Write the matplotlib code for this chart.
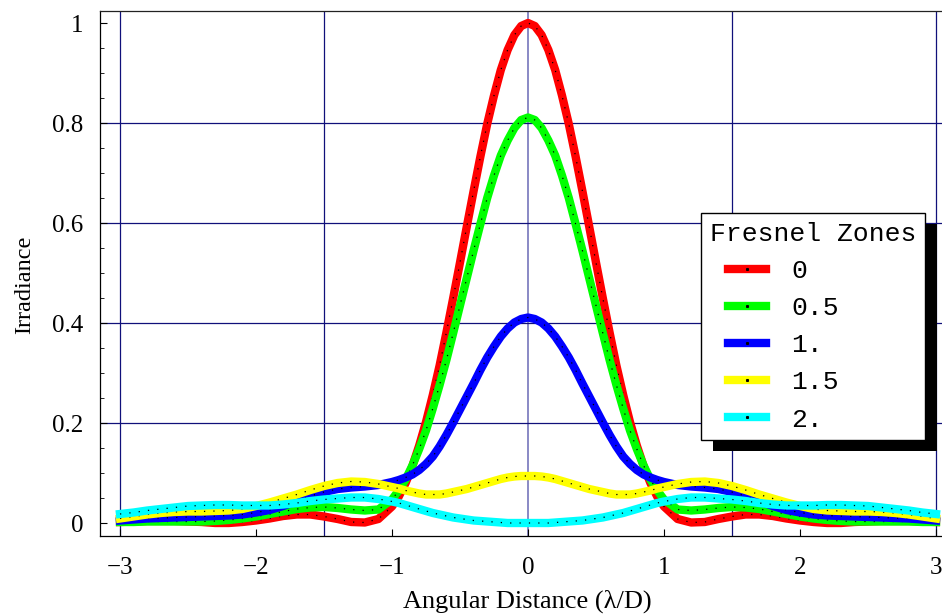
import matplotlib
matplotlib.use("Agg")
import matplotlib.pyplot as plt
from matplotlib.lines import Line2D
from matplotlib.patches import Rectangle
from matplotlib.font_manager import FontProperties
from matplotlib.ticker import MultipleLocator
from matplotlib.legend_handler import HandlerLine2D

# ---- data ----
# sample positions: 0.1 steps in the wings, 0.05 steps across the central lobe
x_vals = ([round(-3.0 + 0.1 * i, 2) for i in range(20)]
          + [round(-1.0 + 0.05 * i, 2) for i in range(41)]
          + [round(1.1 + 0.1 * i, 2) for i in range(20)])

zone_labels = ["0", "0.5", "1.", "1.5", "2."]
zone_colors = ["#ff0000", "#00ff00", "#0000ff", "#ffff00", "#00ffff"]

red_vals = [0.002, 0.003, 0.004, 0.004, 0.004, 0.003, 0.002, 0.000, 0.000, 0.002,
            0.005, 0.009, 0.014, 0.017, 0.017, 0.013, 0.008, 0.002, 0.001, 0.008,
            0.033, 0.053, 0.080, 0.114, 0.155, 0.202, 0.256, 0.315, 0.381, 0.450,
            0.521, 0.593, 0.664, 0.733, 0.798, 0.855, 0.906, 0.946, 0.976, 0.994,
            1.000,
            0.994, 0.976, 0.946, 0.906, 0.855, 0.798, 0.733, 0.664, 0.593, 0.521,
            0.450, 0.381, 0.315, 0.256, 0.202, 0.155, 0.114, 0.080, 0.053, 0.033,
            0.008, 0.001, 0.002, 0.008, 0.013, 0.017, 0.017, 0.014, 0.009, 0.005,
            0.002, 0.000, 0.000, 0.002, 0.003, 0.004, 0.004, 0.004, 0.003, 0.002]

green_vals = [0.002, 0.002, 0.003, 0.003, 0.003, 0.003, 0.003, 0.004, 0.006, 0.009,
              0.013, 0.018, 0.023, 0.028, 0.031, 0.032, 0.030, 0.027, 0.025, 0.027,
              0.047, 0.065, 0.087, 0.115, 0.148, 0.185, 0.229, 0.276, 0.326, 0.380,
              0.435, 0.490, 0.545, 0.598, 0.650, 0.695, 0.735, 0.765, 0.790, 0.806,
              0.811,
              0.806, 0.790, 0.765, 0.735, 0.695, 0.650, 0.598, 0.545, 0.490, 0.435,
              0.380, 0.326, 0.276, 0.229, 0.185, 0.148, 0.115, 0.087, 0.065, 0.047,
              0.027, 0.025, 0.027, 0.030, 0.032, 0.031, 0.028, 0.023, 0.018, 0.013,
              0.009, 0.006, 0.004, 0.003, 0.003, 0.003, 0.003, 0.003, 0.002, 0.002]

blue_vals = [0.005, 0.007, 0.009, 0.010, 0.011, 0.012, 0.013, 0.014, 0.015, 0.017,
             0.021, 0.026, 0.034, 0.044, 0.054, 0.062, 0.068, 0.071, 0.073, 0.076,
             0.082, 0.086, 0.091, 0.097, 0.106, 0.118, 0.133, 0.153, 0.176, 0.201,
             0.227, 0.253, 0.279, 0.306, 0.331, 0.353, 0.373, 0.389, 0.401, 0.408,
             0.411,
             0.408, 0.401, 0.389, 0.373, 0.353, 0.331, 0.306, 0.279, 0.253, 0.227,
             0.201, 0.176, 0.153, 0.133, 0.118, 0.106, 0.097, 0.091, 0.086, 0.082,
             0.076, 0.073, 0.071, 0.068, 0.062, 0.054, 0.044, 0.034, 0.026, 0.021,
             0.017, 0.015, 0.014, 0.013, 0.012, 0.011, 0.010, 0.009, 0.007, 0.005]

yellow_vals = [0.009, 0.013, 0.017, 0.020, 0.022, 0.023, 0.023, 0.024, 0.025, 0.028,
               0.034, 0.041, 0.049, 0.057, 0.066, 0.074, 0.080, 0.083, 0.082, 0.078,
               0.072, 0.069, 0.065, 0.062, 0.059, 0.057, 0.057, 0.057, 0.059, 0.062,
               0.065, 0.068, 0.072, 0.076, 0.080, 0.084, 0.088, 0.091, 0.093, 0.094,
               0.094,
               0.094, 0.093, 0.091, 0.088, 0.084, 0.080, 0.076, 0.072, 0.068, 0.065,
               0.062, 0.059, 0.057, 0.057, 0.057, 0.059, 0.062, 0.065, 0.069, 0.072,
               0.078, 0.082, 0.083, 0.080, 0.074, 0.066, 0.057, 0.049, 0.041, 0.034,
               0.028, 0.025, 0.024, 0.023, 0.023, 0.022, 0.020, 0.017, 0.013, 0.009]

cyan_vals = [0.018, 0.021, 0.025, 0.028, 0.031, 0.034, 0.035, 0.036, 0.036, 0.035,
             0.035, 0.035, 0.037, 0.040, 0.044, 0.047, 0.049, 0.051, 0.051, 0.048,
             0.043, 0.040, 0.036, 0.032, 0.028, 0.024, 0.020, 0.017, 0.014, 0.011,
             0.009, 0.007, 0.005, 0.004, 0.003, 0.002, 0.001, 0.000, 0.000, 0.000,
             0.000,
             0.000, 0.000, 0.000, 0.001, 0.002, 0.003, 0.004, 0.005, 0.007, 0.009,
             0.011, 0.014, 0.017, 0.020, 0.024, 0.028, 0.032, 0.036, 0.040, 0.043,
             0.048, 0.051, 0.051, 0.049, 0.047, 0.044, 0.040, 0.037, 0.035, 0.035,
             0.035, 0.036, 0.036, 0.035, 0.034, 0.031, 0.028, 0.025, 0.021, 0.018]

series = [red_vals, green_vals, blue_vals, yellow_vals, cyan_vals]

x_ticks = [-3, -2, -1, 0, 1, 2, 3]
y_ticks = [0, 0.2, 0.4, 0.6, 0.8, 1]
y_tick_labels = ["0", "0.2", "0.4", "0.6", "0.8", "1"]
x_grid = [-3, -1.5, 1.5, 3]
y_grid = [0.2, 0.4, 0.6, 0.8]

# ---- figure ----
W, H = 942, 615
fig = plt.figure(figsize=(W / 100, H / 100), dpi=100)
ax_left, ax_right, ax_top, ax_bottom = 100, 950, 11, 536
ax = fig.add_axes([ax_left / W, 1 - ax_bottom / H, (ax_right - ax_left) / W,
                   (ax_bottom - ax_top) / H])
ax.set_xlim((ax_left - 528) / 136, (ax_right - 528) / 136)
ax.set_ylim((523 - ax_bottom) / 500, (523 - ax_top) / 500)

serif = ["Liberation Serif", "DejaVu Serif"]

for gx in x_grid:
    ax.axvline(gx, color="#10107a", lw=0.9, zorder=1)
ax.axvline(0, color="#8080c0", lw=1.3, zorder=1)
for gy in y_grid:
    ax.axhline(gy, color="#10107a", lw=0.9, zorder=1)

for i, (vals, col) in enumerate(zip(series, zone_colors)):
    ax.plot(x_vals, vals, color=col, lw=6.0, solid_capstyle="projecting",
            solid_joinstyle="round", zorder=3 + i * 0.1)
    ax.plot(x_vals, vals, color="black", lw=0.9, linestyle=(0, (1.0, 6.5)),
            zorder=3.05 + i * 0.1)

ax.set_xticks(x_ticks)
ax.set_yticks(y_ticks)
ax.set_yticklabels(y_tick_labels)
ax.yaxis.set_minor_locator(MultipleLocator(0.05))
ax.tick_params(axis="both", which="major", direction="in", length=5, width=0.8,
               labelsize=18, pad=12)
ax.tick_params(axis="y", which="minor", direction="in", length=3, width=0.6)
ax.tick_params(axis="x", pad=15)
for lab in ax.get_xticklabels() + ax.get_yticklabels():
    lab.set_fontfamily(serif)

ax.spines["right"].set_visible(False)
for s in ["left", "bottom", "top"]:
    ax.spines[s].set_linewidth(0.9)
ax.spines["top"].set_color("#222222")

fig.text(527 / W, 1 - 601 / H, "Angular Distance (\u03bb/D)", ha="center", va="center",
         fontsize=19, family=serif)
fig.text(25 / W, 1 - 285 / H, "Irradiance", ha="center", va="center", rotation=90,
         fontsize=17.5, family=serif)

# ---- legend ----
handles = [Line2D([], [], color=c, lw=6.0, marker="s", markersize=1.2,
                  markerfacecolor="black", markeredgecolor="black")
           for c in zone_colors]
mono = FontProperties(family=["Liberation Mono", "DejaVu Sans Mono"], size=19)
leg = ax.legend(handles, zone_labels, title="Fresnel Zones", prop=mono,
                title_fontproperties=mono, loc="upper left",
                bbox_to_anchor=(701 / W, 1 - 213 / H), bbox_transform=fig.transFigure,
                borderaxespad=0, fancybox=False, framealpha=1, edgecolor="black",
                handlelength=2.15, handletextpad=0.95, labelspacing=0.5,
                numpoints=1, borderpad=0.33, alignment="left",
                handler_map={Line2D: HandlerLine2D(numpoints=1, xpad=0.7)})
leg.get_frame().set_linewidth(1.0)
leg.set_zorder(10)

fig.canvas.draw()
bb = leg.get_window_extent()
inv = fig.transFigure.inverted()
(x0, y0), (x1, y1) = inv.transform([(bb.x0 + 12, bb.y0 - 11), (bb.x1 + 12, bb.y1 - 11)])
shadow = Rectangle((x0, y0), x1 - x0, y1 - y0, transform=fig.transFigure,
                   facecolor="black", edgecolor="none", zorder=9.5, clip_on=False)
ax.add_patch(shadow)

fig.savefig("out.png", dpi=100)
